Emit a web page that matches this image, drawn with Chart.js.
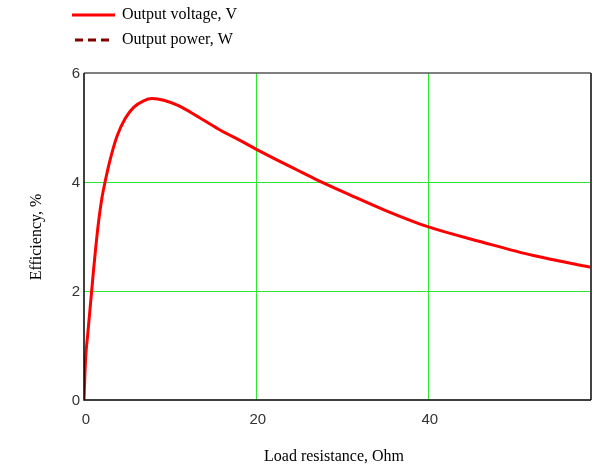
<!DOCTYPE html>
<html>
<head>
<meta charset="utf-8">
<script src="https://cdn.jsdelivr.net/npm/chart.js@4/dist/chart.umd.min.js"></script>
<style>
html,body{margin:0;padding:0;background:#fff;}
#wrap{position:relative;width:595px;height:467px;}
</style>
</head>
<body>
<div id="wrap"><canvas id="c" width="595" height="467"></canvas></div>
<script>
// Data
const loadResistance = [0, 0.1, 0.2, 0.42, 0.65, 0.88, 1.12, 1.38, 1.72, 2.10, 2.45, 3.06, 3.84, 4.81, 5.78, 6.94, 7.92, 9.27, 11.0, 13.55, 15.88, 18.2, 20.07, 22.9, 24.8, 27.1, 31, 34.9, 40, 46.5, 52.3, 59];
const efficiency     = [0, 0.45, 0.8, 1.18, 1.58, 1.98, 2.40, 2.82, 3.30, 3.72, 4.0, 4.42, 4.84, 5.17, 5.37, 5.49, 5.53, 5.50, 5.40, 5.17, 4.95, 4.76, 4.60, 4.37, 4.22, 4.04, 3.76, 3.49, 3.18, 2.89, 2.65, 2.435];
const powerValues    = []; // "Output power, W" has no visible points in the plot
const seriesLabels   = ["Output voltage, V", "Output power, W"];
const xTitle = "Load resistance, Ohm";
const yTitle = "Efficiency, %";
const xMin = 0, xMax = 59, xStep = 20;
const yMin = 0, yMax = 6, yStep = 2;

const pts = loadResistance.map((x, i) => ({x: x, y: efficiency[i]}));
const pwr = powerValues.map((v, i) => ({x: loadResistance[i], y: v}));

const serif = "'Liberation Serif', 'Times New Roman', serif";
const sans = "'Liberation Sans', Arial, sans-serif";
const gridGreen = '#2ee82e';

const gridPlugin = {
  id: 'greenGrid',
  beforeDatasetsDraw(chart) {
    const ctx = chart.ctx;
    const a = chart.chartArea;
    const xs = chart.scales.x, ys = chart.scales.y;
    ctx.save();
    ctx.strokeStyle = gridGreen;
    ctx.lineWidth = 1;
    xs.ticks.forEach(t => {
      if (t.value <= xMin || t.value >= xMax) return;
      const p = Math.round(xs.getPixelForValue(t.value)) + 0.5;
      ctx.beginPath(); ctx.moveTo(p, a.top); ctx.lineTo(p, a.bottom); ctx.stroke();
    });
    ys.ticks.forEach(t => {
      if (t.value <= yMin || t.value >= yMax) return;
      const p = Math.round(ys.getPixelForValue(t.value)) + 0.5;
      ctx.beginPath(); ctx.moveTo(a.left, p); ctx.lineTo(a.right, p); ctx.stroke();
    });
    ctx.restore();
  }
};

const decor = {
  id: 'decor',
  afterDraw(chart) {
    const ctx = chart.ctx;
    const a = chart.chartArea;
    ctx.save();
    // frame
    ctx.lineCap = 'butt';
    ctx.strokeStyle = '#555'; ctx.lineWidth = 1.5;
    ctx.beginPath(); ctx.moveTo(a.left, a.top); ctx.lineTo(a.right, a.top); ctx.stroke();
    ctx.strokeStyle = '#444'; ctx.lineWidth = 2;
    ctx.beginPath(); ctx.moveTo(a.right, a.top); ctx.lineTo(a.right, a.bottom); ctx.stroke();
    ctx.strokeStyle = '#000'; ctx.lineWidth = 1.5;
    ctx.beginPath(); ctx.moveTo(a.left, a.top); ctx.lineTo(a.left, a.bottom); ctx.lineTo(a.right, a.bottom); ctx.stroke();

    // axis titles
    ctx.fillStyle = '#000';
    ctx.font = '16px ' + serif;
    ctx.textAlign = 'center'; ctx.textBaseline = 'middle';
    ctx.fillText(xTitle, 334, 457);
    ctx.save();
    ctx.translate(37, 237); ctx.rotate(-Math.PI / 2);
    ctx.fillText(yTitle, 0, 0);
    ctx.restore();

    // legend
    const ds = chart.data.datasets;
    const rows = [15, 40];
    ds.forEach((d, i) => {
      const y = rows[i];
      ctx.strokeStyle = d.borderColor;
      ctx.lineWidth = 3;
      ctx.setLineDash(d.borderDash || []);
      ctx.beginPath();
      if (d.borderDash && d.borderDash.length) { ctx.moveTo(75, y); ctx.lineTo(110, y); }
      else { ctx.moveTo(72, y); ctx.lineTo(115, y); }
      ctx.stroke();
      ctx.setLineDash([]);
      ctx.fillStyle = '#000';
      ctx.textAlign = 'left'; ctx.textBaseline = 'middle';
      ctx.font = '16px ' + serif;
      ctx.fillText(d.label, 122, y);
    });
    ctx.restore();
  }
};

new Chart(document.getElementById('c'), {
  type: 'line',
  data: {
    datasets: [
      {label: seriesLabels[0], data: pts, borderColor: '#ff0000', borderWidth: 3,
       pointRadius: 0, cubicInterpolationMode: 'monotone', fill: false},
      {label: seriesLabels[1], data: pwr, borderColor: '#800000', borderWidth: 3,
       borderDash: [8, 5], pointRadius: 0, fill: false}
    ]
  },
  options: {
    responsive: false,
    animation: false,
    devicePixelRatio: 1,
    layout: {padding: {top: 73, right: 4, left: 0, bottom: 0}},
    plugins: {legend: {display: false}, tooltip: {enabled: false}},
    scales: {
      x: {
        type: 'linear', min: xMin, max: xMax,
        afterFit(s) { s.height = 67; },
        border: {display: false},
        grid: {display: false, drawTicks: false},
        ticks: {stepSize: xStep, includeBounds: false, padding: 11, labelOffset: 2, color: '#333', font: {family: sans, size: 15}}
      },
      y: {
        type: 'linear', min: yMin, max: yMax,
        afterFit(s) { s.width = 84; },
        border: {display: false},
        grid: {display: false, drawTicks: false},
        ticks: {stepSize: yStep, padding: 4, labelOffset: 1, color: '#333', font: {family: sans, size: 15}}
      }
    }
  },
  plugins: [gridPlugin, decor]
});
</script>
</body>
</html>
